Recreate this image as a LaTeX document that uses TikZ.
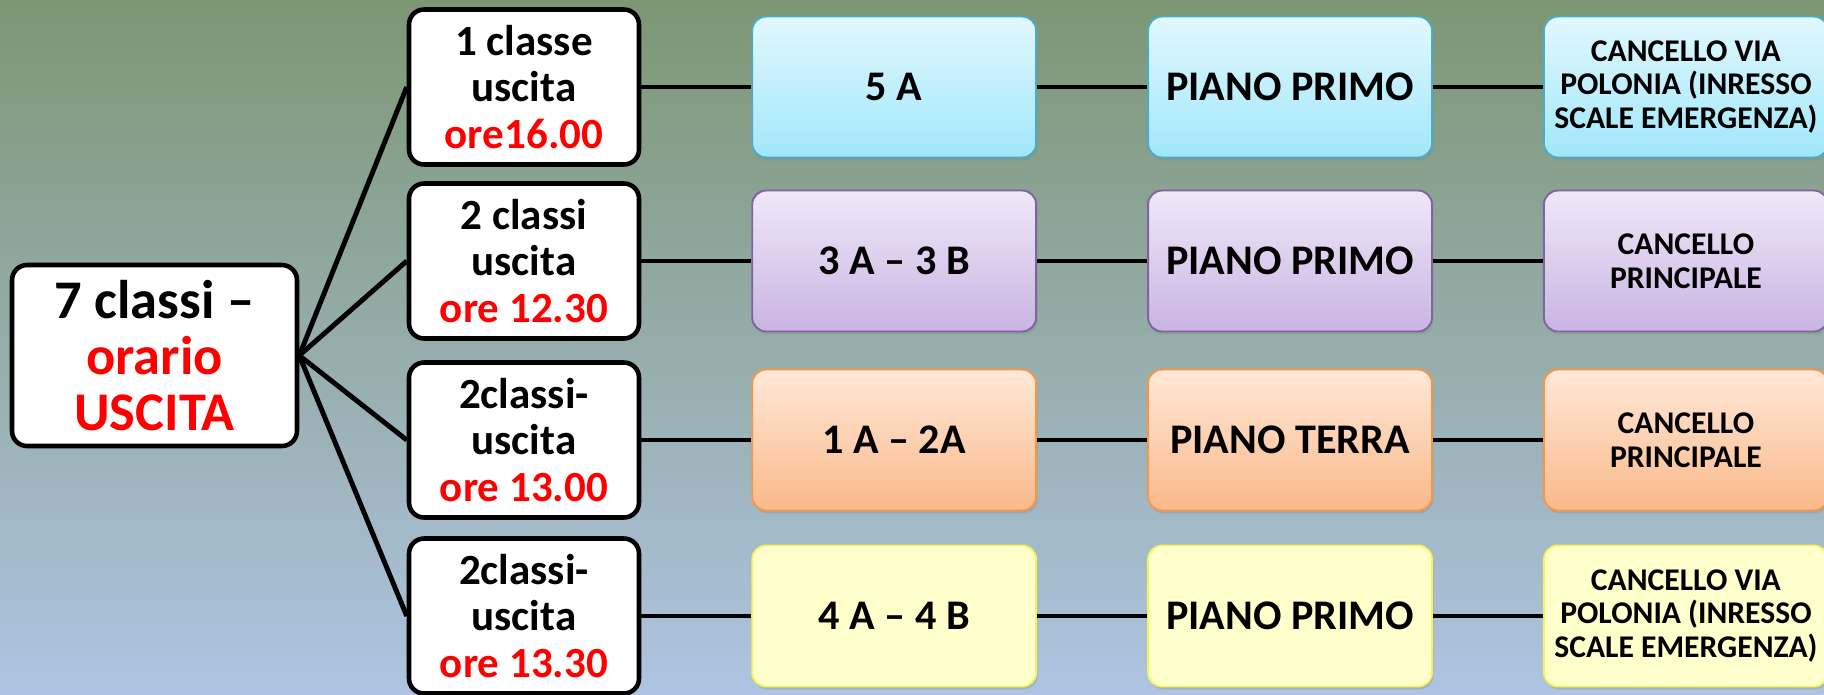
\documentclass[tikz,border=0pt]{standalone}
\usepackage{fontspec}
\setmainfont{Carlito}
\usetikzlibrary{positioning,shadows}
\definecolor{bgtop}{HTML}{7D9673}
\definecolor{bgbot}{HTML}{AEC4E2}
\definecolor{bluetop}{HTML}{E2F8FE}
\definecolor{bluebot}{HTML}{A0E7FA}
\definecolor{blueline}{HTML}{4BACC6}
\definecolor{purptop}{HTML}{F0E8F8}
\definecolor{purpbot}{HTML}{C9B4E2}
\definecolor{purpline}{HTML}{8064A2}
\definecolor{orantop}{HTML}{FFE8D8}
\definecolor{oranbot}{HTML}{FAB98A}
\definecolor{oranline}{HTML}{F79646}
\definecolor{yellfill}{HTML}{FFFFCC}
\definecolor{yellline}{HTML}{F5F55A}
\begin{document}
\begin{tikzpicture}
[x=0.02cm,y=-0.02cm,%
  every node/.style={align=center,inner sep=2pt},%
  orariobox/.style={draw=black,line width=2.6pt,fill=white,rounded corners=0.3cm,
    minimum width=5.7cm,minimum height=3.62cm,font=\fontsize{31}{32}\bfseries},%
  uscitabox/.style={draw=black,line width=2.6pt,fill=white,rounded corners=0.3cm,
    minimum width=4.6cm,minimum height=3.1cm,font=\fontsize{24.5}{26.7}\bfseries},%
  classbox/.style={line width=1.1pt,rounded corners=0.28cm,
    minimum width=5.68cm,minimum height=2.82cm,font=\fontsize{24}{27}\bfseries,
    drop shadow={opacity=0.25,shadow xshift=0.03cm,shadow yshift=-0.06cm}},%
  gatebox/.style={classbox,font=\fontsize{18}{19.3}\bfseries},%
  bluebox/.style={draw=blueline,top color=bluetop,bottom color=bluebot},%
  purpbox/.style={draw=purpline,top color=purptop,bottom color=purpbot},%
  oranbox/.style={draw=oranline,top color=orantop,bottom color=oranbot},%
  yellbox/.style={draw=yellline,fill=yellfill},%
  link/.style={line width=2.8pt},%
  node distance=2.2cm]
\useasboundingbox (0,0) rectangle (1824,694);
\clip (0,0) rectangle (1824,694);
\shade[top color=bgtop,bottom color=bgbot] (0,0) rectangle (1824,694);
\node[orariobox] (orario) at (154.5,355.5)
  {7 classi --\\\textcolor{red}{orario}\\\textcolor{red}{USCITA}};
\node[uscitabox] (usc1) at (524,87)
  {1 classe\\uscita\\\textcolor{red}{ore16.00}};
\node[uscitabox] (usc2) at (524,261)
  {2 classi\\uscita\\\textcolor{red}{ore 12.30}};
\node[uscitabox] (usc3) at (524,440)
  {2classi-\\uscita\\\textcolor{red}{ore 13.00}};
\node[uscitabox] (usc4) at (524,616)
  {2classi-\\uscita\\\textcolor{red}{ore 13.30}};
\node[classbox,bluebox,right=of usc1] (cl1) {5 A};
\node[classbox,purpbox,right=of usc2] (cl2) {3 A -- 3 B};
\node[classbox,oranbox,right=of usc3] (cl3) {1 A -- 2A};
\node[classbox,yellbox,right=of usc4] (cl4) {4 A -- 4 B};
\node[classbox,bluebox,right=of cl1] (piano1) {PIANO PRIMO};
\node[classbox,purpbox,right=of cl2] (piano2) {PIANO PRIMO};
\node[classbox,oranbox,right=of cl3] (piano3) {PIANO TERRA};
\node[classbox,yellbox,right=of cl4] (piano4) {PIANO PRIMO};
\node[gatebox,bluebox,right=of piano1] (canc1)
  {CANCELLO VIA\\POLONIA (INRESSO\\SCALE EMERGENZA)};
\node[gatebox,purpbox,right=of piano2] (canc2) {CANCELLO\\PRINCIPALE};
\node[gatebox,oranbox,right=of piano3] (canc3) {CANCELLO\\PRINCIPALE};
\node[gatebox,yellbox,right=of piano4] (canc4)
  {CANCELLO VIA\\POLONIA (INRESSO\\SCALE EMERGENZA)};
\draw[link] (orario.east) -- (usc1.west);
\draw[link] (orario.east) -- (usc2.west);
\draw[link] (orario.east) -- (usc3.west);
\draw[link] (orario.east) -- (usc4.west);
\draw[link] (usc1) -- (cl1) (cl1) -- (piano1) (piano1) -- (canc1);
\draw[link] (usc2) -- (cl2) (cl2) -- (piano2) (piano2) -- (canc2);
\draw[link] (usc3) -- (cl3) (cl3) -- (piano3) (piano3) -- (canc3);
\draw[link] (usc4) -- (cl4) (cl4) -- (piano4) (piano4) -- (canc4);
\end{tikzpicture}
\end{document}
